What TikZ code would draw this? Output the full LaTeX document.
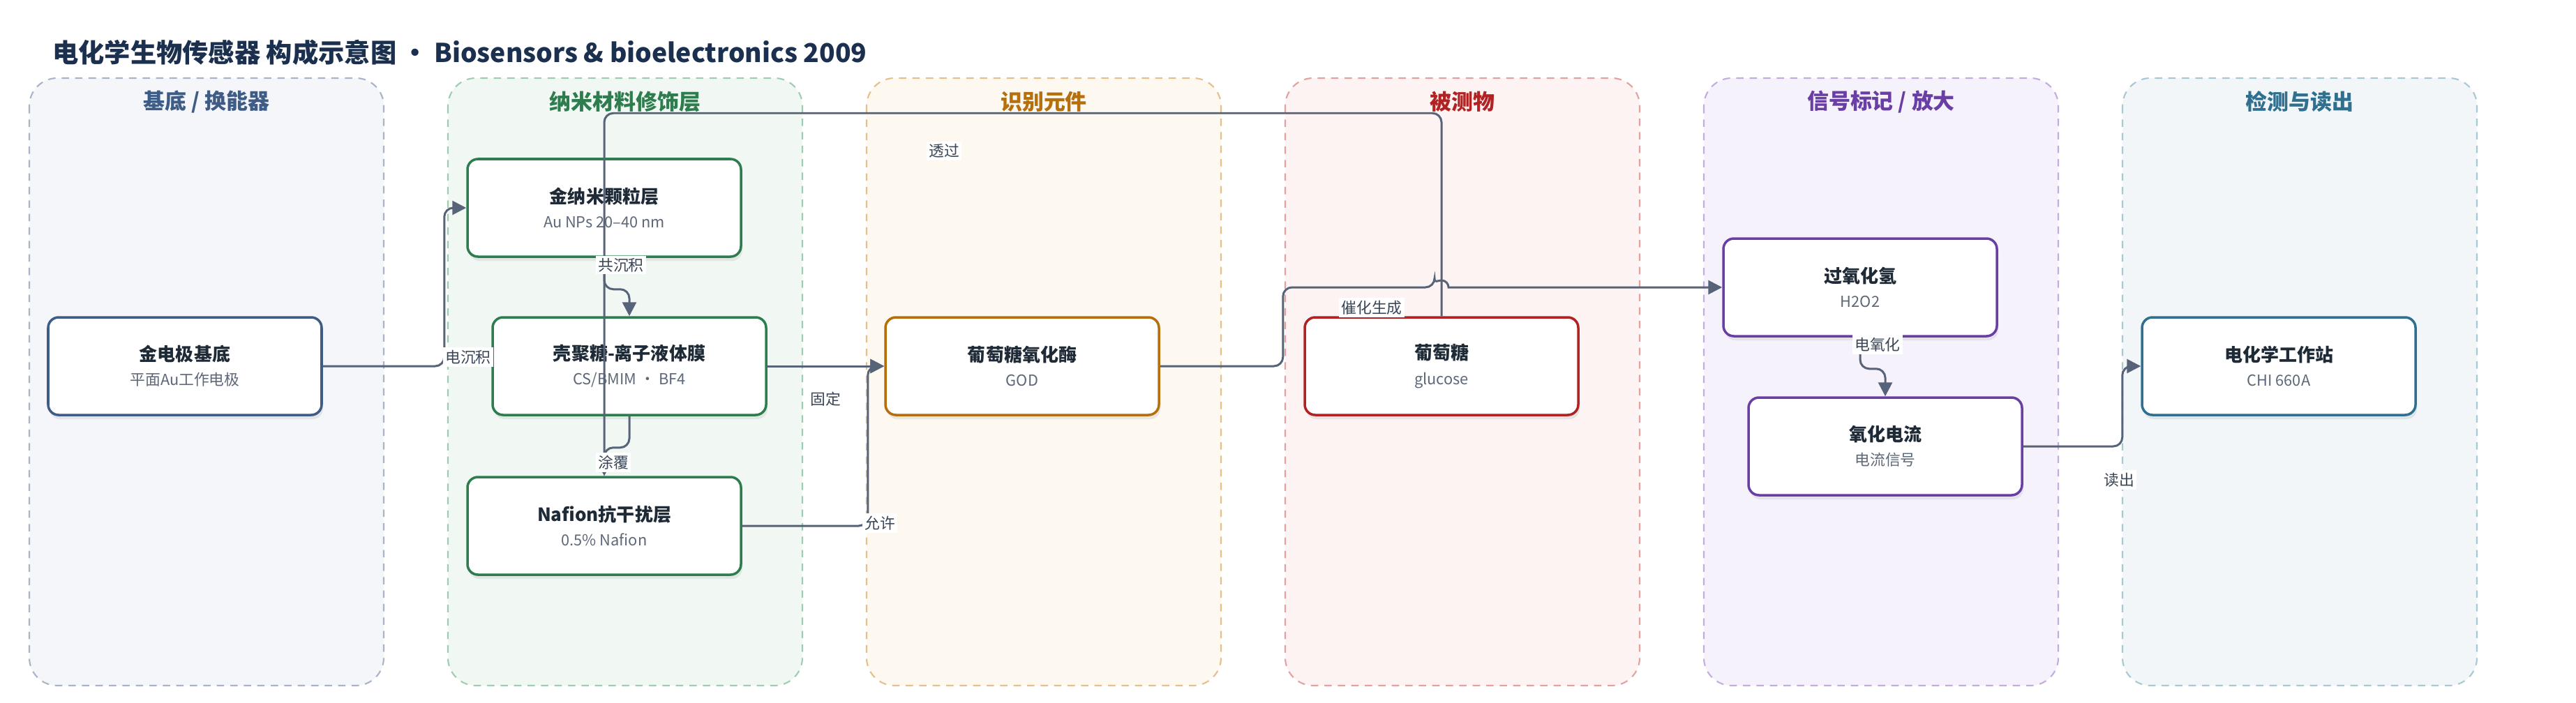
\documentclass[tikz,border=0pt]{standalone}
\usepackage{fontspec}
\setmainfont{Noto Sans CJK SC}
\usetikzlibrary{arrows.meta,shadows}

\definecolor{headc}{HTML}{1B2F4E}
\definecolor{edgec}{HTML}{566379}
\definecolor{lblc}{HTML}{3A4556}
\definecolor{boxtext}{HTML}{1F2A37}
\definecolor{subtext}{HTML}{5D6878}
\definecolor{fillA}{HTML}{F4F6FA}\definecolor{lineA}{HTML}{A8B5C8}\definecolor{mainA}{HTML}{3E5C85}
\definecolor{fillB}{HTML}{F1F8F3}\definecolor{lineB}{HTML}{9FCDB0}\definecolor{mainB}{HTML}{2E7D4E}
\definecolor{fillC}{HTML}{FDF8F0}\definecolor{lineC}{HTML}{E6C08A}\definecolor{mainC}{HTML}{B5700D}
\definecolor{fillD}{HTML}{FDF3F3}\definecolor{lineD}{HTML}{E5A0A0}\definecolor{mainD}{HTML}{B22222}
\definecolor{fillE}{HTML}{F6F2FB}\definecolor{lineE}{HTML}{C5ACDF}\definecolor{mainE}{HTML}{6A3FA5}
\definecolor{fillF}{HTML}{F2F6F8}\definecolor{lineF}{HTML}{A8C8D4}\definecolor{mainF}{HTML}{2F6F8F}

\newcommand{\boxhead}[1]{{\fontsize{7.4}{10}\selectfont\bfseries\color{boxtext}#1}}
\newcommand{\boxsub}[1]{{\fontsize{6.2}{10}\selectfont\color{subtext}#1}}

\begin{document}
\begin{tikzpicture}[>={Triangle[length=0.2cm,width=0.2cm]}]
\tikzstyle{lane}=[line width=0.6pt, dash pattern=on 3pt off 2.5pt, rounded corners=0.4cm]
\tikzstyle{box}=[draw, fill=white, line width=1pt, rounded corners=0.15cm, minimum width=3.92cm, minimum height=1.4cm, align=center, font=\fontsize{7.4}{10}\selectfont, drop shadow={opacity=0.15, shadow xshift=0.02cm, shadow yshift=-0.06cm}]
\tikzstyle{flow}=[->, draw=edgec, line width=0.85pt, rounded corners=0.13cm]
\tikzstyle{lbl}=[fill=white, text=lblc, inner sep=1pt, font=\fontsize{6.2}{7}\selectfont]

\fill[white] (0,0) rectangle (36.92,-10.07);
\useasboundingbox (0,0) rectangle (36.92,-10.07);

\node[anchor=west, text=headc, font=\fontsize{10.6}{12}\selectfont\bfseries] (title) at (0.63,-0.75)
  {电化学生物传感器 构成示意图 • Biosensors \& bioelectronics 2009};

\foreach \i/\c/\t in {0/A/{基底 / 换能器}, 1/B/{纳米材料修饰层}, 2/C/{识别元件}, 3/D/{被测物}, 4/E/{信号标记 / 放大}, 5/F/{检测与读出}}{
  \draw[lane, fill=fill\c, draw=line\c] (0.42+6*\i,-1.12) rectangle (5.50+6*\i,-9.83);
  \node[text=main\c, font=\fontsize{8.8}{10}\selectfont\bfseries] (lane\c) at (2.96+6*\i,-1.46) {\t};
}

\node[box, draw=mainA] (base) at (2.65,-5.25) {\boxhead{金电极基底}\\\boxsub{平面Au工作电极}};
\node[box, draw=mainB] (aunp) at (8.66,-2.98) {\boxhead{金纳米颗粒层}\\\boxsub{Au NPs 20–40 nm}};
\node[box, draw=mainB] (cs) at (9.02,-5.25) {\boxhead{壳聚糖-离子液体膜}\\\boxsub{CS/BMIM • BF4}};
\node[box, draw=mainB] (naf) at (8.66,-7.54) {\boxhead{Nafion抗干扰层}\\\boxsub{0.5\% Nafion}};
\node[box, draw=mainC] (god) at (14.65,-5.25) {\boxhead{葡萄糖氧化酶}\\\boxsub{GOD}};
\node[box, draw=mainD] (glu) at (20.66,-5.25) {\boxhead{葡萄糖}\\\boxsub{glucose}};
\node[box, draw=mainE] (hpo) at (26.66,-4.12) {\boxhead{过氧化氢}\\\boxsub{H2O2}};
\node[box, draw=mainE] (cur) at (27.02,-6.40) {\boxhead{氧化电流}\\\boxsub{电流信号}};
\node[box, draw=mainF] (ws) at (32.66,-5.25) {\boxhead{电化学工作站}\\\boxsub{CHI 660A}};

\draw[flow] (base.east) -- ++(1.74,0) |- (aunp.west);
\draw[flow] (aunp.south) -- ++(0,-0.45) -| (cs.north);
\draw[flow] (cs.south) -- ++(0,-0.45) -| (naf.north);
\draw[flow] (cs.east) -- (god.west);
\draw[flow] (naf.east) -- ++(1.80,0) |- (god.west);
\draw[flow] (glu.north) -- ++(0,2.91) -| (naf.north);
\draw[flow] (god.east) -- ++(1.76,0) |- (20.56,-4.12) [sharp corners] arc (180:0:0.1) -- (hpo.west);
\draw[flow] (hpo.south) -- ++(0,-0.45) -| (cur.north);
\draw[flow] (cur.east) -- ++(1.42,0) |- (ws.west);

\node[lbl] (l1) at (6.71,-5.12) {电沉积};
\node[lbl] (l2) at (8.90,-3.80) {共沉积};
\node[lbl] (l3) at (8.79,-6.63) {涂覆};
\node[lbl] (l4) at (11.83,-5.72) {固定};
\node[lbl] (l5) at (12.61,-7.50) {允许};
\node[lbl] (l6) at (13.53,-2.16) {透过};
\node[lbl] (l7) at (19.66,-4.41) {催化生成};
\node[lbl] (l8) at (26.91,-4.94) {电氧化};
\node[lbl] (l9) at (30.37,-6.88) {读出};
\end{tikzpicture}
\end{document}
